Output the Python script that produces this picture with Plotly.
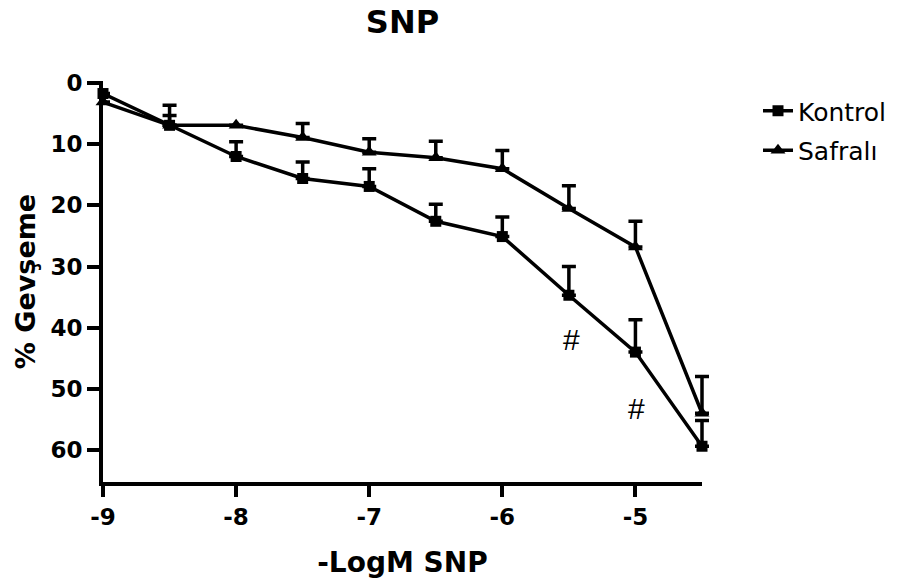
import plotly.graph_objects as go

x_vals = [-9, -8.5, -8, -7.5, -7, -6.5, -6, -5.5, -5, -4.5]
kontrol = [1.7, 6.9, 12.0, 15.6, 16.9, 22.6, 25.1, 34.7, 44.0, 59.4]
kontrol_err = [0, 1.6, 2.4, 2.7, 2.9, 2.8, 3.2, 4.7, 5.3, 4.2]
safrali = [3.1, 6.9, 6.9, 8.9, 11.3, 12.2, 14.0, 20.5, 26.8, 54.0]
safrali_err = [0, 3.3, 0, 2.3, 2.2, 2.7, 3.0, 3.7, 4.2, 6.0]

x_ticks = [-9, -8, -7, -6, -5]
y_ticks = [0, 10, 20, 30, 40, 50, 60]

hash_x = [-5.48, -4.99]
hash_y = [42.0, 53.2]

BOLD = "DejaVu Sans, sans-serif"
REG = "DejaVu Sans, sans-serif"
HASHF = "Liberation Sans, Arial, sans-serif"

# layout geometry (pixels)
L, T, B = 103, 81, 103
axis_px = 599                 # length of visible x axis
extra_px = 30                 # room so the last error caps are not clipped
W = axis_px + extra_px
R = 918 - L - W
x_min, x_max = -9, -4.5
ppu = axis_px / (x_max - x_min)

fig = go.Figure()
# empty trace so the visible x axis (x / y subplot) is drawn
fig.add_trace(go.Scatter(x=[], y=[], xaxis="x", yaxis="y", showlegend=False,
                         hoverinfo="skip"))
fig.add_trace(go.Scatter(
    x=x_vals, y=kontrol, name="Kontrol", mode="lines+markers",
    xaxis="x2", yaxis="y",
    line=dict(color="black", width=3.5),
    marker=dict(symbol="square", size=11, color="black"),
    error_y=dict(type="data", symmetric=False, array=[0] * len(kontrol_err),
                 arrayminus=kontrol_err, color="black", thickness=3.5, width=7),
    cliponaxis=False, legendgroup="k",
))
fig.add_trace(go.Scatter(
    x=x_vals, y=safrali, name="Safralı", mode="lines+markers",
    xaxis="x2", yaxis="y",
    line=dict(color="black", width=3.5),
    marker=dict(symbol="triangle-up", size=13, color="black"),
    error_y=dict(type="data", symmetric=False, array=[0] * len(safrali_err),
                 arrayminus=safrali_err, color="black", thickness=3.5, width=7),
    cliponaxis=False, legendgroup="s",
))

for hx, hy in zip(hash_x, hash_y):
    fig.add_annotation(x=hx, y=hy, xref="x2", yref="y", text="#", showarrow=False,
                       font=dict(family=HASHF, size=30, color="black"))

fig.update_layout(
    width=918, height=585,
    margin=dict(l=L, r=R, t=T, b=B),
    paper_bgcolor="white", plot_bgcolor="white",
    font=dict(family=REG, color="black"),
    title=dict(text="<b>SNP</b>", x=(L + L + axis_px) / 2 / 918, xanchor="center",
               xref="container", yref="container",
               y=1 - 22 / 585, yanchor="middle",
               font=dict(size=32, family=BOLD, color="black")),
    legend=dict(x=(758 - L) / W, y=1 - (88 - T) / (585 - T - B), xanchor="left", yanchor="top",
                font=dict(size=25, family=REG, color="black"),
                traceorder="grouped", tracegroupgap=4,
                bgcolor="rgba(0,0,0,0)"),
    showlegend=True,
    xaxis=dict(
        domain=[0, axis_px / W], anchor="y",
        range=[x_min, x_max], tickvals=x_ticks,
        ticktext=["<b>%d</b>" % v for v in x_ticks],
        showline=True, linewidth=4, linecolor="black",
        ticks="outside", ticklen=11, tickwidth=4, tickcolor="black",
        showgrid=False, zeroline=False,
        tickfont=dict(size=23, family=BOLD, color="black"),
        title=dict(text="<b>-LogM SNP</b>", font=dict(size=28, family=BOLD, color="black"),
                   standoff=25),
    ),
    xaxis2=dict(
        domain=[0, 1], anchor="y",
        range=[x_min, x_min + W / ppu],
        visible=False, showgrid=False, zeroline=False,
    ),
    yaxis=dict(
        anchor="x",
        range=[65.25, -0.35], tickvals=y_ticks,
        ticktext=["<b>%d</b>" % v for v in y_ticks],
        showline=True, linewidth=4, linecolor="black",
        ticks="outside", ticklen=12, tickwidth=4, tickcolor="black",
        showgrid=False, zeroline=False,
        tickfont=dict(size=23, family=BOLD, color="black"),
        title=dict(text="<b>% Gevşeme</b>", font=dict(size=27, family=BOLD, color="black"),
                   standoff=8),
    ),
)

fig.write_html("out.html")
